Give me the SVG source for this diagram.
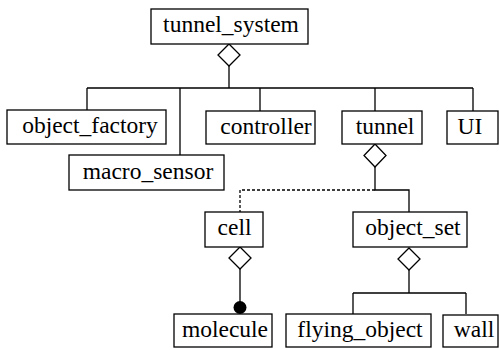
<svg xmlns="http://www.w3.org/2000/svg" width="499" height="350" viewBox="0 0 499 350">
<style>
.box{fill:#fff;stroke:#000;stroke-width:1.3}
.ln{fill:none;stroke:#000;stroke-width:1.3}
.dash{fill:none;stroke:#000;stroke-width:1.3;stroke-dasharray:3,2}
.dia{fill:#fff;stroke:#000;stroke-width:1.3}
text{font-family:"Liberation Serif",serif;font-size:23.5px;fill:#000;text-anchor:middle}
</style>
<rect width="499" height="350" fill="#fff"/>
<g id="connectors">
<path class="ln" d="M229,66 V88 M87,88 H473 M87,88 V110 M180,88 V155 M260,88 V111 M375,88 V111 M473,88 V111"/>
<path class="ln" d="M375,167 V190 H409 V212"/>
<path class="dash" d="M375,190 H240 V212"/>
<path class="ln" d="M240,269 V307"/>
<circle cx="240" cy="307.5" r="6.5" fill="#000"/>
<path class="ln" d="M409,270 V293 M353,293 H466 M353,293 V314 M466,293 V314"/>
<polygon class="dia" points="229,44 240,55 229,66 218,55"/>
<polygon class="dia" points="375,144 386,155.5 375,167 364,155.5"/>
<polygon class="dia" points="240,247 251,258 240,269 229,258"/>
<polygon class="dia" points="409,248 420,259 409,270 398,259"/>
</g>
<g id="tunnel_system"><rect class="box" x="151" y="9" width="157" height="35"/><text x="231" y="32" font-family="Liberation Serif" font-size="23.5">tunnel_system</text></g>
<g id="object_factory"><rect class="box" x="7" y="110" width="159" height="34"/><text x="90" y="133" font-family="Liberation Serif" font-size="23.5">object_factory</text></g>
<g id="macro_sensor"><rect class="box" x="69" y="155" width="155" height="35"/><text x="148" y="179" font-family="Liberation Serif" font-size="23.5">macro_sensor</text></g>
<g id="controller"><rect class="box" x="206" y="111" width="109" height="33"/><text x="266" y="134" font-family="Liberation Serif" font-size="23.5">controller</text></g>
<g id="tunnel"><rect class="box" x="342" y="111" width="80" height="33"/><text x="385" y="134" font-family="Liberation Serif" font-size="23.5">tunnel</text></g>
<g id="UI"><rect class="box" x="447" y="111" width="51" height="33"/><text x="470" y="134" font-family="Liberation Serif" font-size="23.5">UI</text></g>
<g id="cell"><rect class="box" x="205" y="212" width="58" height="35"/><text x="234.5" y="235" font-family="Liberation Serif" font-size="23.5">cell</text></g>
<g id="object_set"><rect class="box" x="353" y="212" width="114" height="35"/><text x="413" y="235" font-family="Liberation Serif" font-size="23.5">object_set</text></g>
<g id="molecule"><rect class="box" x="174" y="314" width="98" height="33"/><text x="225" y="337" font-family="Liberation Serif" font-size="23.5">molecule</text></g>
<g id="flying_object"><rect class="box" x="286" y="314" width="145" height="33"/><text x="360" y="337" font-family="Liberation Serif" font-size="23.5">flying_object</text></g>
<g id="wall"><rect class="box" x="443" y="315" width="55" height="32"/><text x="474" y="337" font-family="Liberation Serif" font-size="23.5">wall</text></g>
</svg>
